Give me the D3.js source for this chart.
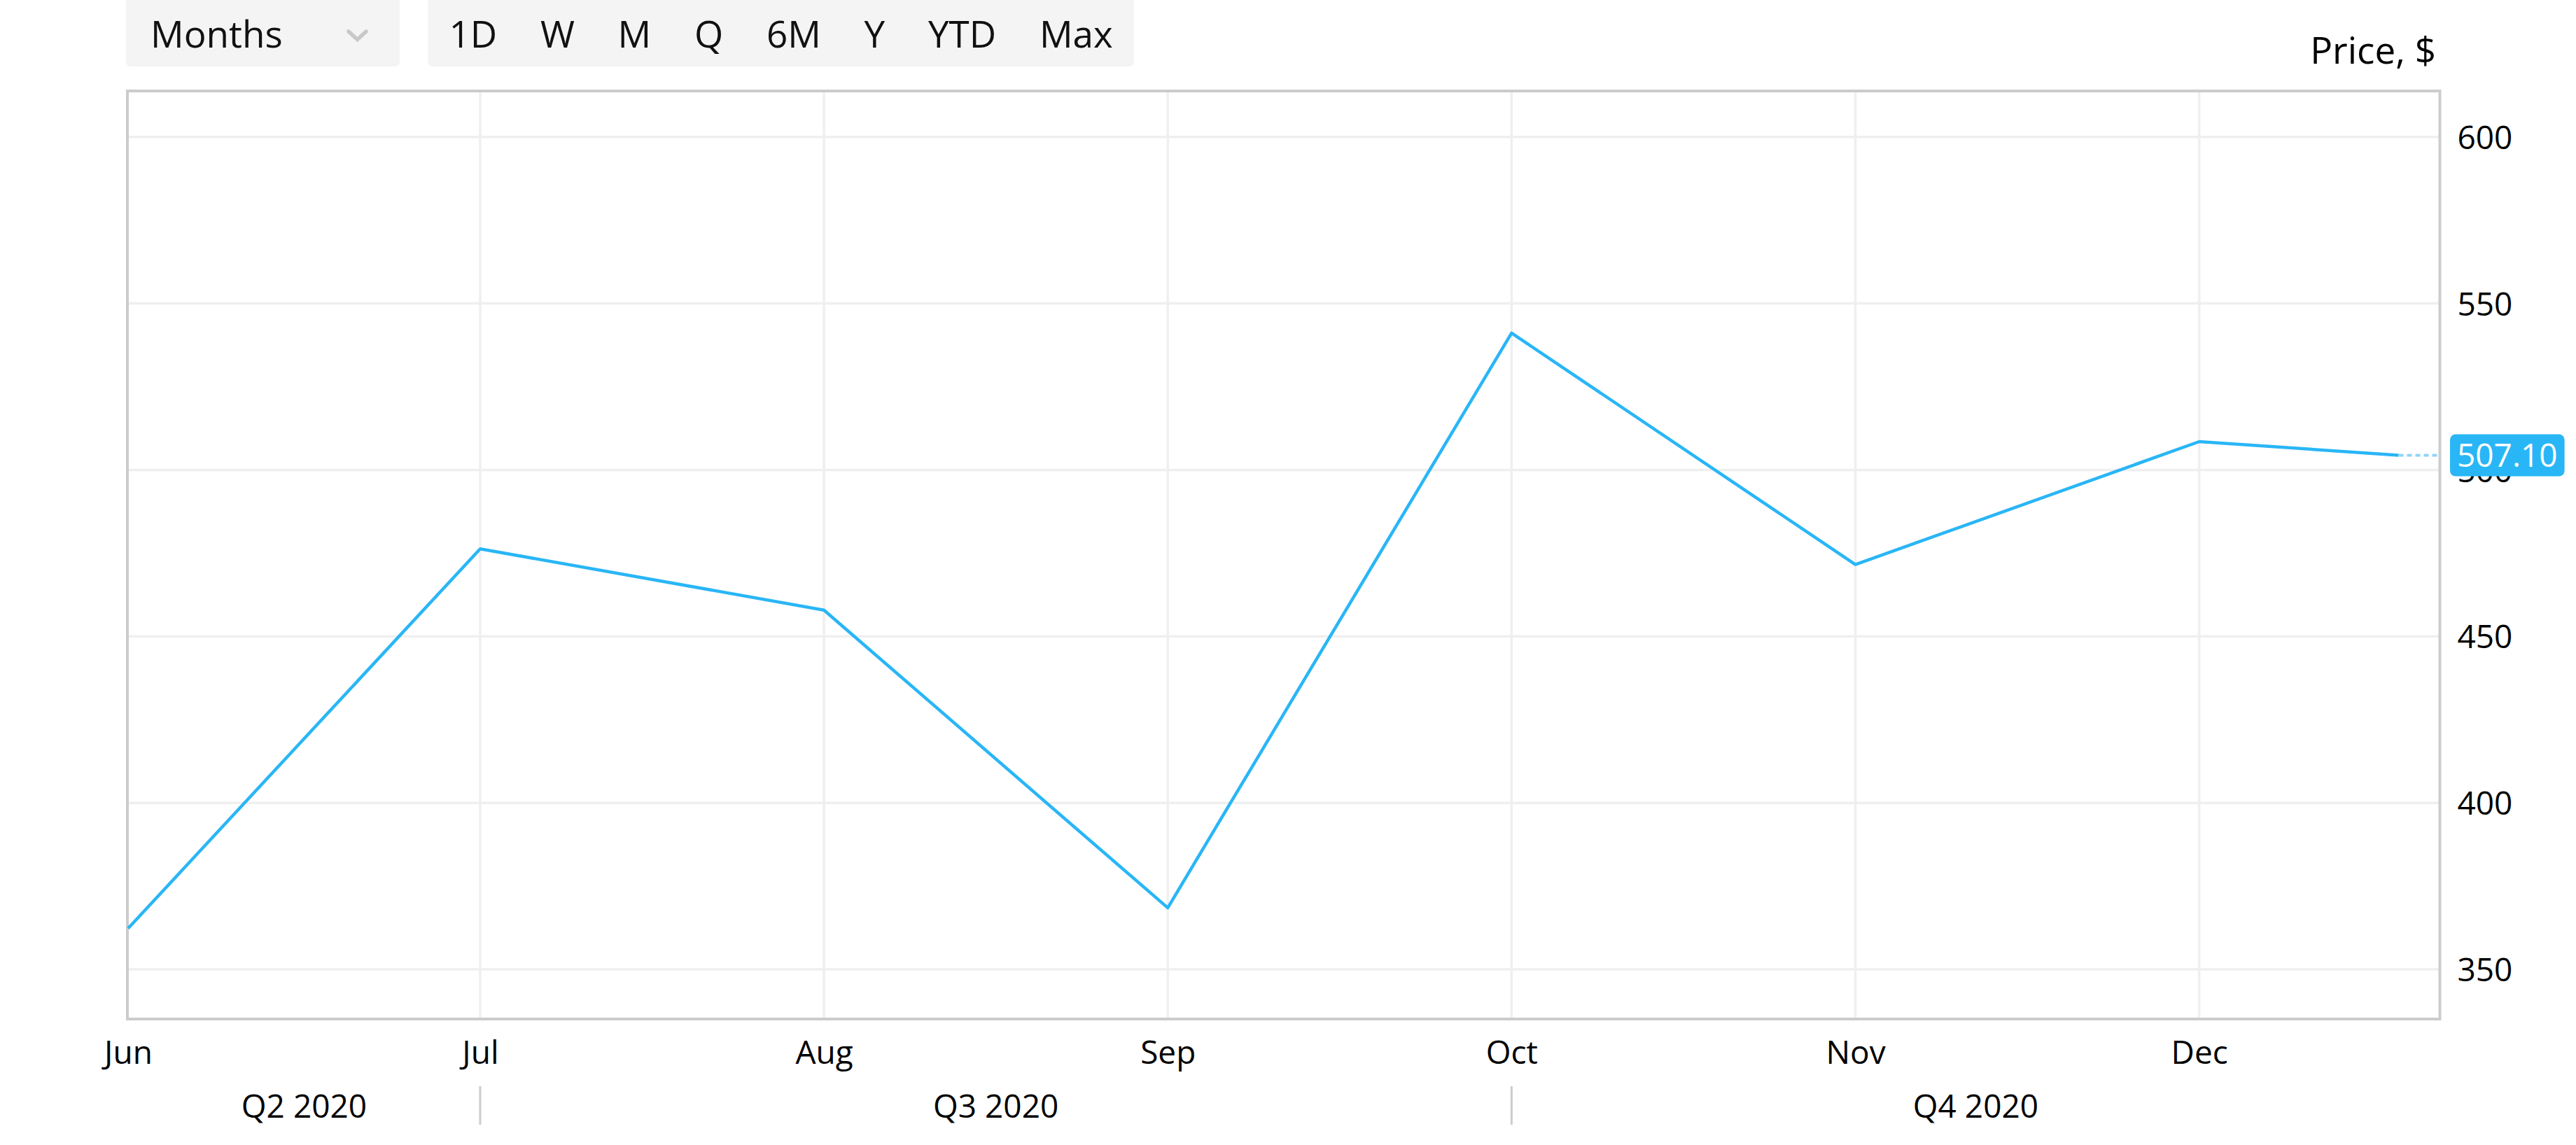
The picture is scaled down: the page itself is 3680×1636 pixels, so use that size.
<!DOCTYPE html>
<html><head><meta charset="utf-8">
<script src="https://cdn.jsdelivr.net/npm/d3@7"></script>
<style>
body{margin:0;background:#fff}
svg{display:block}
text{font-family:"Open Sans","Noto Sans",sans-serif}
</style>
</head><body>
<svg id="chart" width="3680" height="1636"></svg>
<script>
// ---- data ----
const intervalLabel = "Months";
const periodButtons = ["1D","W","M","Q","6M","Y","YTD","Max"];
const axisTitle = "Price, $";
const monthLabels = ["Jun","Jul","Aug","Sep","Oct","Nov","Dec"];
const monthPos = [-0.024, 1, 2, 3, 4, 5, 6];
const quarterLabels = ["Q2 2020","Q3 2020","Q4 2020"];
const quarterStarts = [-0.024, 1, 4];
const pointPos = [-0.024, 1, 2, 3, 4, 5, 6, 6.58];
const prices = [362.3, 476.3, 457.9, 368.5, 541.1, 471.6, 508.5, 504.4];
const yTicks = [350, 400, 450, 500, 550, 600];
const lastPriceLabel = "507.10";

// ---- layout ----
const W = 3680, H = 1636;
const L = 182, T = 130, R = 3485.5, B = 1456;
const svg = d3.select("#chart");
svg.append("rect").attr("width", W).attr("height", H).attr("fill", "#fff");

const x = d3.scaleLinear().domain([-0.024, 6.7]).range([L + 1, R]);
const y = d3.scaleLinear().domain([335.1, 613.8]).range([B, T]);

// grid
const grid = svg.append("g");
grid.selectAll("line.h").data(yTicks).join("line")
  .attr("x1", L).attr("x2", R).attr("y1", d => y(d)).attr("y2", d => y(d))
  .attr("stroke", "#efefef").attr("stroke-width", 3.5);
grid.selectAll("line.v").data(monthPos.slice(1)).join("line")
  .attr("x1", d => x(d)).attr("x2", d => x(d)).attr("y1", T).attr("y2", B)
  .attr("stroke", "#efefef").attr("stroke-width", 3.5);

// frame
svg.append("rect").attr("x", L).attr("y", T).attr("width", R - L).attr("height", B - T)
  .attr("fill", "none").attr("stroke", "#cccccc").attr("stroke-width", 4);

// y axis (right)
const yAxis = svg.append("g").attr("transform", `translate(${R},0)`)
  .call(d3.axisRight(y).tickValues(yTicks).tickSize(0).tickPadding(25).tickFormat(d3.format("d")));
yAxis.select(".domain").remove();
yAxis.selectAll("text").attr("font-size", 46).attr("fill", "#000")
  .attr("font-family", '"Open Sans","Noto Sans",sans-serif').attr("dy", "0.36em");

// axis title
svg.append("text").attr("x", 3480).attr("y", 91).attr("text-anchor", "end")
  .attr("font-size", 53).attr("fill", "#000").text(axisTitle);

// month axis
const xAxis = svg.append("g").attr("transform", `translate(0,${B})`)
  .call(d3.axisBottom(x).tickValues(monthPos).tickSize(0).tickPadding(31)
    .tickFormat((d, i) => monthLabels[i]));
xAxis.select(".domain").remove();
xAxis.selectAll("text").attr("font-size", 46).attr("fill", "#000")
  .attr("font-family", '"Open Sans","Noto Sans",sans-serif');

// quarter row
const qEnds = quarterStarts.slice(1).map(d => x(d)).concat([R]);
svg.append("g").selectAll("text").data(quarterLabels).join("text")
  .attr("x", (d, i) => (x(quarterStarts[i]) + qEnds[i]) / 2)
  .attr("y", 1597).attr("text-anchor", "middle").attr("font-size", 46).attr("fill", "#000")
  .text(d => d);
svg.append("g").selectAll("line").data(quarterStarts.slice(1)).join("line")
  .attr("x1", d => x(d)).attr("x2", d => x(d)).attr("y1", 1552).attr("y2", 1607)
  .attr("stroke", "#cccccc").attr("stroke-width", 3);

// price line
const line = d3.line().x((d, i) => x(pointPos[i])).y(d => y(d));
svg.append("path").datum(prices).attr("d", line)
  .attr("fill", "none").attr("stroke", "#29b6f6").attr("stroke-width", 4.5)
  .attr("stroke-linejoin", "round");

// dotted extension to the right frame
const lastX = x(pointPos[pointPos.length - 1]), lastY = y(prices[prices.length - 1]);
svg.append("line").attr("x1", lastX).attr("x2", R - 2).attr("y1", lastY).attr("y2", lastY)
  .attr("stroke", "#8fd5fa").attr("stroke-width", 4).attr("stroke-dasharray", "7,5");

// last price label
const lbl = svg.append("g");
const lblText = lbl.append("text").attr("x", 3510).attr("y", lastY).attr("dy", "0.36em")
  .attr("font-size", 46).attr("fill", "#fff").text(lastPriceLabel);
const lw = lblText.node().getComputedTextLength();
lbl.insert("rect", "text").attr("x", 3500).attr("y", lastY - 30).attr("width", lw + 20)
  .attr("height", 60).attr("rx", 8).attr("fill", "#29b6f6");

// top controls
const ctl = svg.append("g");
ctl.append("rect").attr("x", 180).attr("y", -10).attr("width", 391).attr("height", 105)
  .attr("rx", 6).attr("fill", "#f4f4f4");
ctl.append("text").attr("x", 215).attr("y", 68).attr("font-size", 53).attr("fill", "#111")
  .text(intervalLabel);
ctl.append("path").attr("d", "M498,45 L510.5,56.5 L523,45").attr("fill", "none")
  .attr("stroke", "#c8c8c8").attr("stroke-width", 5.5).attr("stroke-linecap", "round");

const btnBg = ctl.append("rect").attr("x", 611.5).attr("y", -10).attr("height", 105)
  .attr("rx", 6).attr("fill", "#f4f4f4");
let bx = 641.5;
const gap = 61.7;
periodButtons.forEach(label => {
  const t = ctl.append("text").attr("x", bx).attr("y", 68).attr("font-size", 53)
    .attr("fill", "#111").text(label);
  bx += t.node().getComputedTextLength() + gap;
});
btnBg.attr("width", bx - gap + 30 - 611.5);
</script>
</body></html>
